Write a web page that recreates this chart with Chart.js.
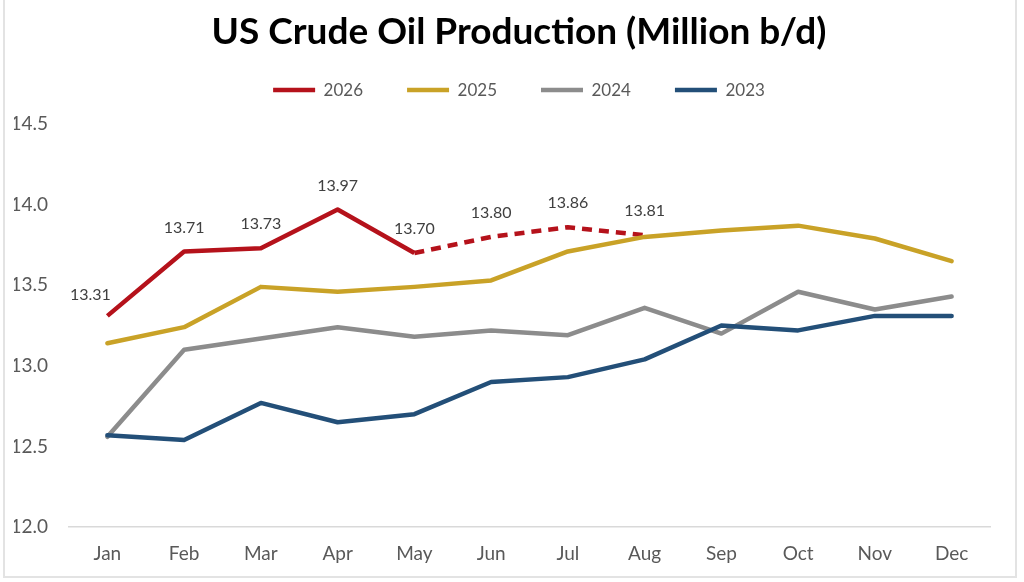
<!DOCTYPE html>
<html>
<head>
<meta charset="utf-8">
<script src="https://cdn.jsdelivr.net/npm/chart.js@4"></script>
<style>
  html, body { margin: 0; padding: 0; background: #fff; }
  #wrap { position: relative; width: 1024px; height: 582px; }
  #frame { position: absolute; left: 3px; top: -2px; width: 1014px; height: 580px;
           border: 2px solid #e3e3e3; box-sizing: border-box; pointer-events: none; }
</style>
</head>
<body>
<div id="wrap">
  <canvas id="chart" width="1024" height="582"></canvas>
  <div id="frame"></div>
</div>
<script>
// ── Data ────────────────────────────────────────────────────────────────────
const MONTHS  = ['Jan','Feb','Mar','Apr','May','Jun','Jul','Aug','Sep','Oct','Nov','Dec'];
const Y_2026  = [13.31, 13.71, 13.73, 13.97, 13.70, 13.80, 13.86, 13.81];
const Y_2025  = [13.14, 13.24, 13.49, 13.46, 13.49, 13.53, 13.71, 13.80, 13.84, 13.87, 13.79, 13.65];
const Y_2024  = [12.56, 13.10, 13.17, 13.24, 13.18, 13.22, 13.19, 13.36, 13.20, 13.46, 13.35, 13.43];
const Y_2023  = [12.57, 12.54, 12.77, 12.65, 12.70, 12.90, 12.93, 13.04, 13.25, 13.22, 13.31, 13.31];
const LAST_ACTUAL = 4;   // May 2026: dashed (estimate) after this point

const FONT = 'Lato, "Open Sans", sans-serif';

// ── Data labels for 2026 ────────────────────────────────────────────────────
const labels2026 = {
  id: 'labels2026',
  afterDatasetsDraw(chart) {
    const meta = chart.getDatasetMeta(0);
    const ctx = chart.ctx;
    ctx.save();
    ctx.font = '16px ' + FONT;
    ctx.fillStyle = '#404040';
    ctx.textAlign = 'center';
    ctx.textBaseline = 'middle';
    meta.data.forEach((pt, i) => {
      const dx = i === 0 ? -17 : 0;
      const dy = i === 0 ? -21 : -24;
      ctx.fillText(Y_2026[i].toFixed(2), pt.x + dx, pt.y + dy);
    });
    ctx.restore();
  }
};

function series(label, data, color, order, extra = {}) {
  return Object.assign({
    label, data, order,
    borderColor: color, backgroundColor: color,
    borderWidth: 4.5, pointRadius: 0, tension: 0,
    borderCapStyle: 'round', borderJoinStyle: 'round'
  }, extra);
}

new Chart(document.getElementById('chart'), {
  type: 'line',
  data: {
    labels: MONTHS,
    datasets: [
      series('2026', Y_2026, '#b5121b', 4, {
        segment: { borderDash: c => c.p0DataIndex >= LAST_ACTUAL ? [10, 7] : undefined },
        borderCapStyle: 'butt'
      }),
      series('2025', Y_2025, '#c9a227', 3),
      series('2024', Y_2024, '#8c8c8c', 2),
      series('2023', Y_2023, '#234f78', 1)
    ]
  },
  options: {
    responsive: false,
    animation: false,
    layout: { padding: { left: 14, right: 0, top: 0, bottom: 0 } },
    plugins: {
      tooltip: { enabled: false },
      title: {
        display: true,
        text: 'US Crude Oil Production (Million b/d)',
        color: '#000',
        font: { family: FONT, size: 37, weight: 'bold' },
        padding: { top: 9.8, bottom: -16.6 }
      },
      legend: {
        position: 'top',
        labels: {
          usePointStyle: true,
          pointStyle: 'line',
          pointStyleWidth: 42,
          color: '#595959',
          font: { family: FONT, size: 17 },
          padding: 44,
          sort: (a, b) => a.datasetIndex - b.datasetIndex
        }
      }
    },
    scales: {
      x: {
        offset: true,
        grid: { display: false, drawTicks: false },
        border: { display: true, color: '#d9d9d9', width: 1.5 },
        ticks: { color: '#595959', font: { family: FONT, size: 19 }, padding: 15 },
        afterFit: s => { s.height = 55; }
      },
      // empty top band: gap between legend and plot
      xTop: {
        type: 'category', position: 'top',
        grid: { display: false, drawTicks: false },
        border: { display: false },
        ticks: { display: false },
        afterFit: s => { s.height = 15.5; }
      },
      y: {
        min: 12, max: 14.5,
        grid: { display: false, drawTicks: false },
        border: { display: false },
        ticks: {
          stepSize: 0.5, color: '#595959', padding: 21,
          font: { family: FONT, size: 19 },
          callback: v => v.toFixed(1)
        },
        afterFit: s => { s.width = 55; }
      },
      // empty right band
      yRight: {
        position: 'right',
        grid: { display: false, drawTicks: false },
        border: { display: false },
        ticks: { display: false },
        afterFit: s => { s.width = 34; }
      }
    }
  },
  plugins: [labels2026]
});
</script>
</body>
</html>
